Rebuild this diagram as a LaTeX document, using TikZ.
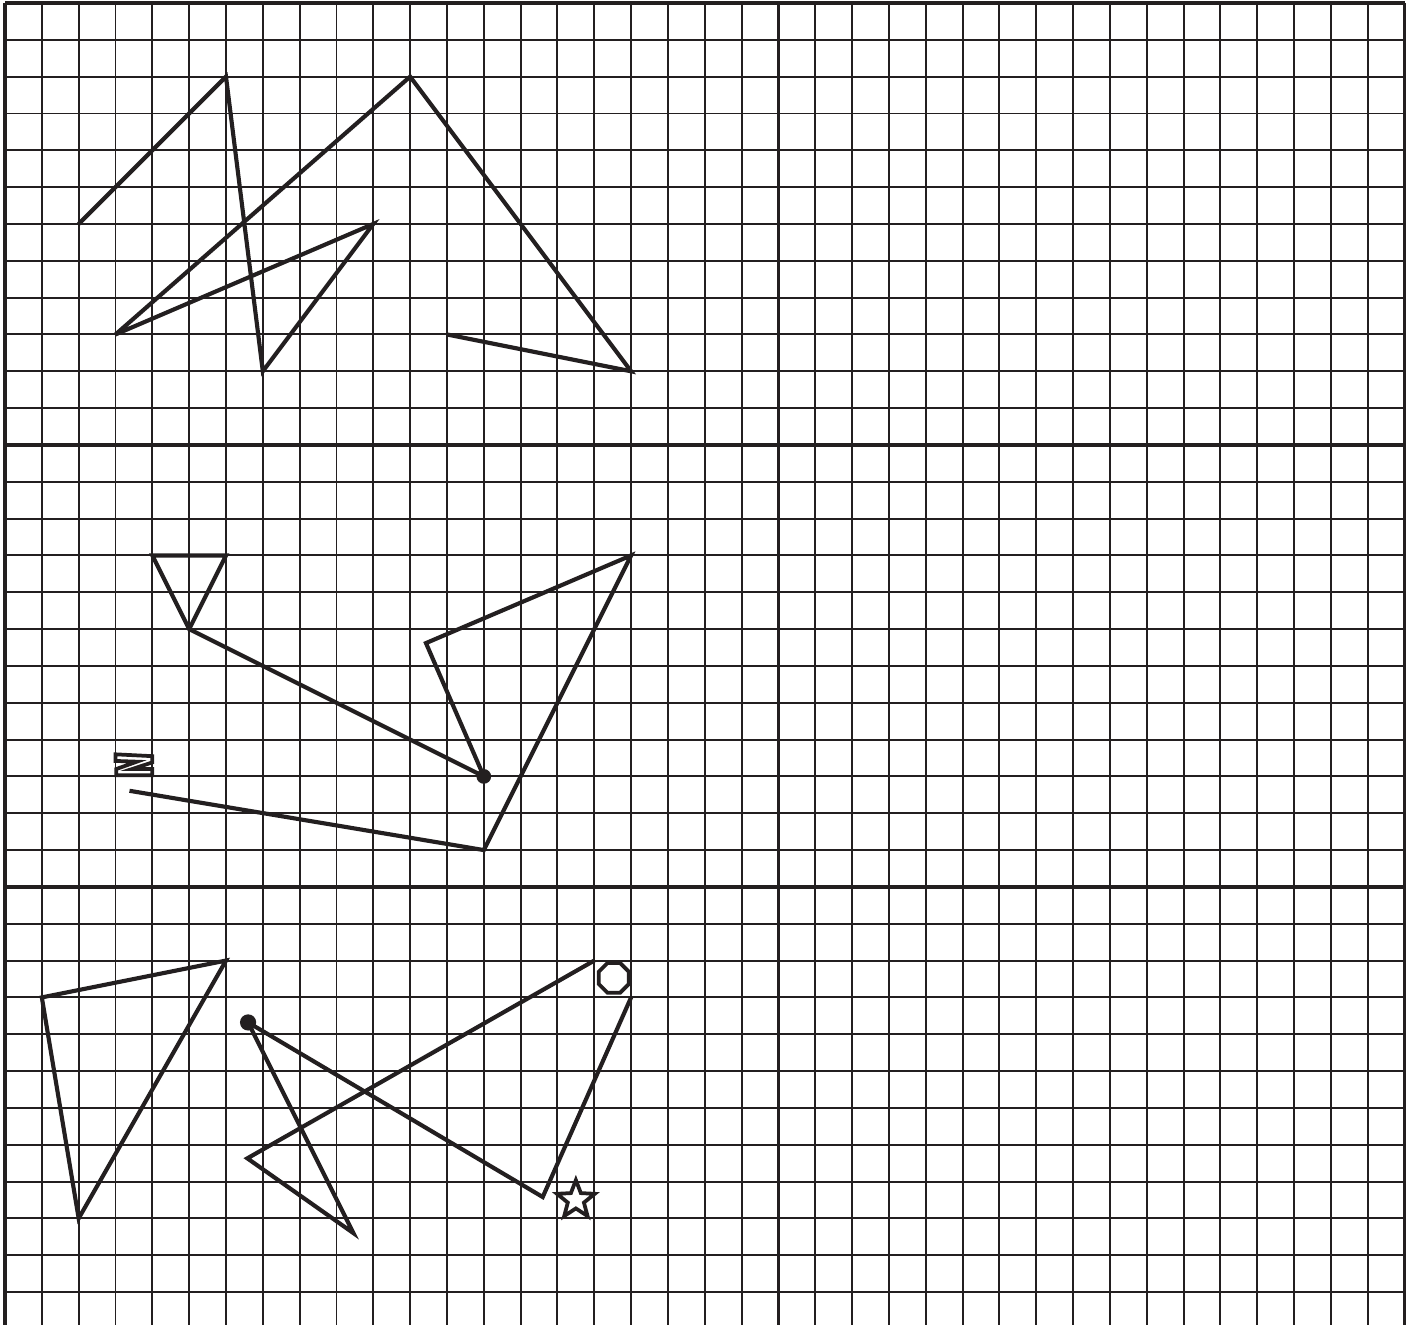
\documentclass[tikz,border=0pt]{standalone}
\definecolor{ink}{RGB}{35,31,32}
\tikzset{
  gridline/.style={ink,line width=1.5pt},
  majorline/.style={ink,line width=2.7pt},
  figline/.style={ink,line width=3.2pt,line join=miter,miter limit=5,line cap=butt},
  markline/.style={ink,line width=2.9pt,line join=miter},
}
\begin{document}
\begin{tikzpicture}[x=1cm,y=-1cm]
\useasboundingbox (-0.136,-0.081) rectangle (38.284,35.895);
\clip (-0.136,-0.081) rectangle (38.284,35.895);
\fill[white] (-0.136,-0.081) rectangle (38.284,35.895);
% grid
\foreach \i in {1,...,37} \draw[gridline] (\i,0) -- (\i,36);
\foreach \j in {1,...,35} \draw[gridline] (0,\j) -- (38,\j);
\foreach \i in {0,21,38} \draw[majorline] (\i,0) -- (\i,36);
\foreach \j in {0,12,24} \draw[majorline] (0,\j) -- (38,\j);
% top figure
\coordinate (a1) at (2,6);
\coordinate (a2) at (6,2);
\coordinate (a3) at (7,10);
\coordinate (a4) at (10,6);
\coordinate (a5) at (3,9);
\coordinate (a6) at (11,2);
\coordinate (a7) at (17,10);
\coordinate (a8) at (12,9);
\draw[figline] (a1) -- (a2) -- (a3) -- (a4) -- (a5) -- (a6) -- (a7) -- (a8);
% middle figure
\coordinate (b1) at (4,15);
\coordinate (b2) at (6,15);
\coordinate (b3) at (5,17);
\coordinate (b4) at (13,21);
\coordinate (b5) at (11.43,17.38);
\coordinate (b6) at (17,15);
\coordinate (b7) at (13,23);
\coordinate (b8) at (3.38,21.39);
\draw[figline] (b1) -- (b2) -- (b3) -- cycle;
\draw[figline] (b3) -- (b4) -- (b5) -- (b6) -- (b7) -- (b8);
\fill[ink] (b4) circle (0.2);
% Z marker
\draw[markline] (3.0,20.4) -- (4.0,20.45) -- (4.0,20.62) -- (3.45,20.8) -- (4.0,20.8) -- (4.0,20.97)
  -- (3.02,20.97) -- (3.02,20.8) -- (3.58,20.6) -- (3.0,20.58) -- cycle;
% bottom figure
\coordinate (c1) at (1,27);
\coordinate (c2) at (6,26);
\coordinate (c3) at (2,33);
\draw[figline] (c1) -- (c2) -- (c3) -- cycle;
\coordinate (d0) at (6.6,27.68);
\coordinate (d1) at (9.46,33.4);
\coordinate (d2) at (6.58,31.37);
\coordinate (d3) at (16,26);
\coordinate (d4) at (14.6,32.42);
\coordinate (d5) at (17,27);
\draw[figline] (d0) -- (d1) -- (d2) -- (d3);
\draw[figline] (d0) -- (d4) -- (d5);
\fill[ink] (d0) circle (0.22);
% octagon marker
\coordinate (oc) at (16.53,26.47);
\draw[markline] (oc) +(22.5:0.44) \foreach \a in {67.5,112.5,...,337.5} { -- +(\a:0.44) } -- cycle;
% star marker
\coordinate (st) at (15.5,32.5);
\draw[markline] (st) +(-90:0.54) -- +(-54:0.23) -- +(-18:0.54) -- +(18:0.23) -- +(54:0.54) -- +(90:0.23)
  -- +(126:0.54) -- +(162:0.23) -- +(198:0.54) -- +(234:0.23) -- cycle;
\end{tikzpicture}
\end{document}
